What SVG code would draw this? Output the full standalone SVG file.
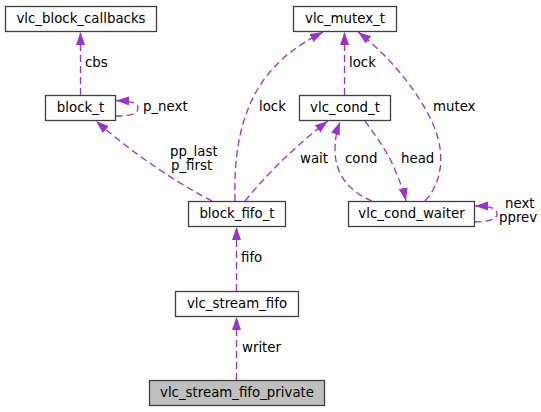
<svg xmlns="http://www.w3.org/2000/svg" width="541" height="412" viewBox="0 0 541 412">
<style>
text { font-family: "DejaVu Sans", "Liberation Sans", sans-serif; font-size: 13.33px; fill: #000000; }
.node rect { fill: #ffffff; stroke: #404040; stroke-width: 1.3; }
.node.main rect { fill: #bfbfbf; }
.node text { text-anchor: middle; }
.edge { fill: none; stroke: #9a32cd; stroke-width: 1.3; stroke-dasharray: 7,4; marker-end: url(#arrow); }
</style>
<defs>
<marker id="arrow" markerUnits="userSpaceOnUse" markerWidth="14" markerHeight="10" refX="13" refY="4.5" orient="auto" viewBox="0 0 14 10">
<path d="M0,0 L13,4.5 L0,9 Z" fill="#9a32cd" stroke="none"/>
</marker>
</defs>
<rect width="541" height="412" fill="#ffffff"/>
<g id="connectors">
<path class="edge" d="M80.5,95 L80.5,32"/>
<path class="edge" d="M115.5,116 C127,116 138,115 138,108 C138,103 132,101 116,100.5"/>
<path class="edge" d="M212,201 C190,190 140,160 96,121"/>
<path class="edge" d="M235,201 C234,160 238,115 265,78 C282,56 300,44 323,32"/>
<path class="edge" d="M245,201 C262,180 290,150 328,121"/>
<path class="edge" d="M344.5,95 L344.5,32"/>
<path class="edge" d="M372,201 C350,192 335,175 335,150 C335,138 337,130 340,122"/>
<path class="edge" d="M365,121 C375,135 388,152 395,170 C400,182 404,192 406,201"/>
<path class="edge" d="M425,201 C440,185 445,160 437,135 C428,105 395,60 358,32"/>
<path class="edge" d="M474.5,222 C486,222 497,220 497,214 C497,208 490,206 475,206"/>
<path class="edge" d="M236.5,291 L236.5,227"/>
<path class="edge" d="M236.5,380 L236.5,317"/>
<text x="85" y="67">cbs</text>
<text x="143" y="111">p_next</text>
<text x="170" y="156">pp_last</text>
<text x="171" y="170">p_first</text>
<text x="259" y="111">lock</text>
<text x="300" y="163">wait</text>
<text x="349" y="67">lock</text>
<text x="345" y="163">cond</text>
<text x="401" y="163">head</text>
<text x="433" y="111">mutex</text>
<text x="505" y="208">next</text>
<text x="499" y="222">pprev</text>
<text x="241" y="262">fifo</text>
<text x="242" y="352">writer</text>
</g>
<g id="vlc_block_callbacks" class="node"><rect x="5.5" y="6.5" width="151" height="25"/><text x="81" y="23">vlc_block_callbacks</text></g>
<g id="block_t" class="node"><rect x="45.5" y="95.5" width="70" height="25"/><text x="80.5" y="112">block_t</text></g>
<g id="vlc_mutex_t" class="node"><rect x="293.5" y="6.5" width="103" height="25"/><text x="345" y="23">vlc_mutex_t</text></g>
<g id="vlc_cond_t" class="node"><rect x="299.5" y="95.5" width="91" height="25"/><text x="345" y="112">vlc_cond_t</text></g>
<g id="vlc_cond_waiter" class="node"><rect x="348.5" y="201.5" width="126" height="25"/><text x="411.5" y="218">vlc_cond_waiter</text></g>
<g id="block_fifo_t" class="node"><rect x="188.5" y="201.5" width="97" height="25"/><text x="237" y="218">block_fifo_t</text></g>
<g id="vlc_stream_fifo" class="node"><rect x="175.5" y="291.5" width="123" height="25"/><text x="237" y="308">vlc_stream_fifo</text></g>
<g id="vlc_stream_fifo_private" class="node main"><rect x="149.5" y="380.5" width="175" height="25"/><text x="237" y="397">vlc_stream_fifo_private</text></g>
</svg>
